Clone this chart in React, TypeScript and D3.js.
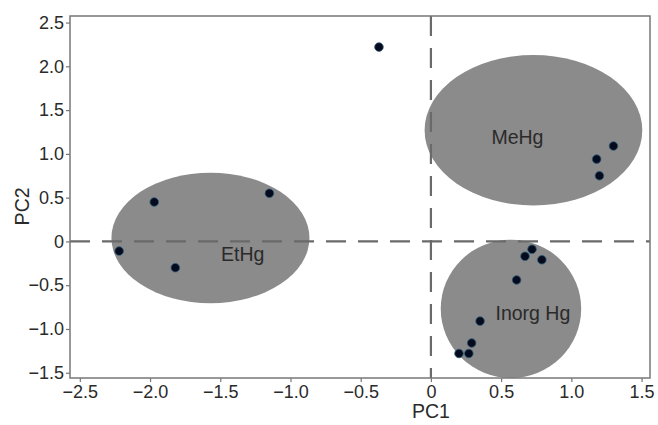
import * as d3 from "d3";
import { useRef, useEffect } from "react";

// PCA scores
const etHg: [number, number][] = [
  [-1.97, 0.45],
  [-1.15, 0.55],
  [-2.22, -0.11],
  [-1.82, -0.3],
];
const meHg: [number, number][] = [
  [1.3, 1.09],
  [1.18, 0.94],
  [1.2, 0.75],
];
const inorgHg: [number, number][] = [
  [0.72, -0.09],
  [0.67, -0.17],
  [0.79, -0.21],
  [0.61, -0.44],
  [0.35, -0.91],
  [0.29, -1.16],
  [0.2, -1.28],
  [0.27, -1.28],
];
const outlier: [number, number][] = [[-0.37, 2.22]];

// group ellipses: name, cx, cy, rx, ry, label position
const groups = [
  { name: "EtHg", cx: -1.57, cy: 0.04, rx: 0.705, ry: 0.745, lx: -1.34, ly: -0.22 },
  { name: "MeHg", cx: 0.73, cy: 1.27, rx: 0.775, ry: 0.86, lx: 0.616, ly: 1.11 },
  { name: "Inorg Hg", cx: 0.57, cy: -0.77, rx: 0.5, ry: 0.79, lx: 0.726, ly: -0.9 },
];

const xTicks = [-2.5, -2.0, -1.5, -1.0, -0.5, 0, 0.5, 1.0, 1.5];
const yTicks = [-1.5, -1.0, -0.5, 0, 0.5, 1.0, 1.5, 2.0, 2.5];

const width = 658;
const height = 425;
const fontFamily = "'Liberation Sans', Arial, sans-serif";

export default function App() {
  const ref = useRef<SVGSVGElement | null>(null);

  useEffect(() => {
    document.body.style.margin = "0";
    const svg = d3.select(ref.current);
    svg.selectAll("*").remove();

    const x = d3.scaleLinear().domain([-2.57, 1.56]).range([70, 650]);
    const y = d3.scaleLinear().domain([-1.56, 2.575]).range([378, 16]);
    const fmt = (v: number) => (v === 0 ? "0" : d3.format(".1f")(v));

    // ellipses
    svg.append("g")
      .selectAll("ellipse")
      .data(groups)
      .join("ellipse")
      .attr("cx", d => x(d.cx))
      .attr("cy", d => y(d.cy))
      .attr("rx", d => x(d.rx) - x(0))
      .attr("ry", d => y(0) - y(d.ry))
      .attr("fill", "#8b8b8b");

    // zero reference lines
    const ref0 = svg.append("g")
      .attr("stroke", "#6a6a6a")
      .attr("stroke-width", 2.2)
      .attr("stroke-dasharray", "20,12");
    ref0.append("line")
      .attr("x1", x(-2.57)).attr("x2", x(1.56))
      .attr("y1", y(0)).attr("y2", y(0));
    ref0.append("line")
      .attr("x1", x(0)).attr("x2", x(0))
      .attr("y1", y(2.575)).attr("y2", y(-1.56));

    // labels
    svg.append("g")
      .selectAll("text")
      .data(groups)
      .join("text")
      .attr("x", d => x(d.lx))
      .attr("y", d => y(d.ly))
      .attr("text-anchor", "middle")
      .attr("font-family", fontFamily)
      .attr("font-size", 19.5)
      .attr("fill", "#2a2a2a")
      .text(d => d.name);

    // points
    const all = [...etHg, ...meHg, ...inorgHg, ...outlier];
    svg.append("g")
      .selectAll("circle")
      .data(all)
      .join("circle")
      .attr("cx", d => x(d[0]))
      .attr("cy", d => y(d[1]))
      .attr("r", 4.3)
      .attr("fill", "#050a1c")
      .attr("stroke", "#2b5a7a")
      .attr("stroke-width", 0.8);

    // frame
    svg.append("rect")
      .attr("x", 70).attr("y", 16)
      .attr("width", 580).attr("height", 362)
      .attr("fill", "none")
      .attr("stroke", "#777")
      .attr("stroke-width", 1.5);

    const xAxis = svg.append("g")
      .attr("transform", `translate(0,378)`)
      .call(d3.axisBottom(x).tickValues(xTicks).tickFormat(d => fmt(+d)).tickSize(4).tickPadding(3));
    const yAxis = svg.append("g")
      .attr("transform", `translate(70,0)`)
      .call(d3.axisLeft(y).tickValues(yTicks).tickFormat(d => fmt(+d)).tickSize(4).tickPadding(2));
    for (const g of [xAxis, yAxis]) {
      g.select(".domain").remove();
      g.selectAll("line").attr("stroke", "#777").attr("stroke-width", 1.2);
      g.selectAll("text")
        .attr("font-family", fontFamily)
        .attr("font-size", 18)
        .attr("fill", "#2a2a2a");
    }

    svg.append("text")
      .attr("x", x(0))
      .attr("y", 418)
      .attr("text-anchor", "middle")
      .attr("font-family", fontFamily)
      .attr("font-size", 19.5)
      .attr("fill", "#2a2a2a")
      .text("PC1");
    svg.append("text")
      .attr("transform", `translate(29,${y(0.4)}) rotate(-90)`)
      .attr("text-anchor", "middle")
      .attr("font-family", fontFamily)
      .attr("font-size", 19.5)
      .attr("fill", "#2a2a2a")
      .text("PC2");
  }, []);

  return <svg ref={ref} width={width} height={height} style={{ display: "block" }} />;
}
